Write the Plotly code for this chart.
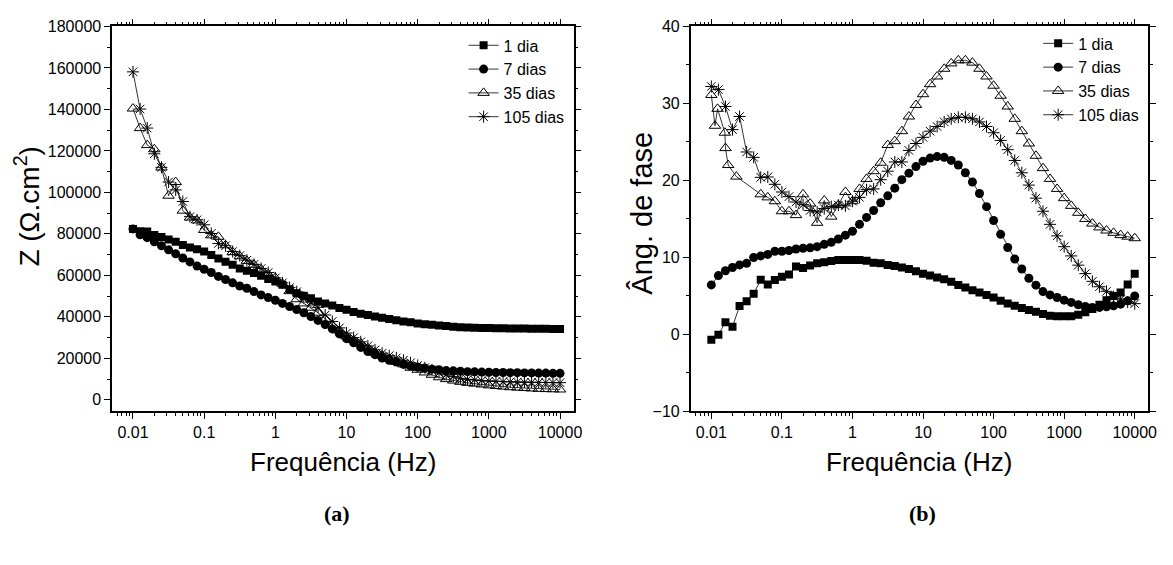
import plotly.graph_objects as go

# Frequency sweep, 10 points per decade (Hz)
freq = [0.01, 0.01259, 0.01585, 0.01995, 0.02512, 0.03162, 0.03981, 0.05012, 0.0631, 0.07943,
        0.1, 0.1259, 0.1585, 0.1995, 0.2512, 0.3162, 0.3981, 0.5012, 0.631, 0.7943,
        1, 1.259, 1.585, 1.995, 2.512, 3.162, 3.981, 5.012, 6.31, 7.943,
        10, 12.59, 15.85, 19.95, 25.12, 31.62, 39.81, 50.12, 63.1, 79.43,
        100, 125.9, 158.5, 199.5, 251.2, 316.2, 398.1, 501.2, 631, 794.3,
        1000, 1259, 1585, 1995, 2512, 3162, 3981, 5012, 6310, 7943, 10000]

# Low-frequency points of the 35-day phase run
freq_35_low = [0.01, 0.01127, 0.01225, 0.01556, 0.01585, 0.01733, 0.02265]

series_names = ["1 dia", "7 dias", "35 dias", "105 dias"]

# Impedance modulus (ohm.cm2)
z_1dia = [82300, 81300, 81200, 79500, 78500, 77300, 76200, 74600, 73400, 72600,
          71500, 69800, 68200, 66600, 65100, 63300, 62200, 61100, 59800, 58300,
          57000, 55500, 53300, 51400, 50200, 49000, 47400, 46400, 45500, 44300,
          43400, 42400, 41500, 40900, 40200, 39600, 39000, 38400, 37800, 37400,
          36800, 36500, 36200, 35900, 35600, 35300, 35000, 34900, 34800, 34700,
          34600, 34500, 34500, 34400, 34400, 34400, 34300, 34300, 34300, 34200, 34200]
z_7dias = [82400, 79600, 78200, 76200, 74300, 72300, 70400, 68400, 66500, 64500,
           62950, 61400, 59500, 58000, 56400, 54900, 53800, 52200, 50600, 49300,
           48000, 46500, 45000, 43500, 42000, 40200, 38300, 36300, 34200, 31800,
           29500, 27500, 25300, 23300, 21800, 20200, 19100, 18200, 17100, 16300,
           15700, 15400, 14800, 14500, 14100, 14000, 13800, 13600, 13500, 13400,
           13300, 13200, 13200, 13100, 13100, 13000, 13000, 12900, 12900, 12800, 12800]
z_35dias = [140400, 131000, 122800, 120800, 112000, 98400, 105000, 91200, 87900, 86500,
            81900, 79300, 78600, 74500, 71200, 69200, 67000, 65100, 62900, 60600,
            58800, 56000, 52400, 48500, 46500, 44400, 42000, 39000, 36000, 33400,
            30600, 28800, 27200, 24900, 22800, 21300, 19700, 18300, 17100, 15500,
            14500, 13200, 12100, 10900, 10000, 9300, 8700, 8200, 7800, 7400,
            7000, 6700, 6400, 6100, 5900, 5700, 5500, 5300, 5200, 5100, 5000]
z_105dias = [158100, 140200, 131000, 118600, 112100, 105000, 101200, 95600, 88300, 86800,
             84400, 80200, 75400, 74300, 71500, 69500, 67300, 65300, 63300, 61400,
             58800, 56400, 54100, 52100, 49300, 47100, 44600, 40900, 37800, 34700,
             32200, 30000, 28000, 26000, 24100, 22500, 21300, 20200, 19100, 17900,
             16600, 15500, 14500, 13200, 12100, 11200, 10400, 9900, 9600, 9300,
             9100, 8900, 8800, 8700, 8600, 8500, 8500, 8400, 8400, 8300, 8300]

# Phase angle (degrees)
ph_1dia = [-0.69, -0.04, 1.6, 1.0, 3.7, 4.3, 5.3, 7.1, 6.5, 7.07,
           7.49, 7.78, 8.82, 8.62, 8.95, 9.25, 9.37, 9.54, 9.66, 9.66,
           9.66, 9.66, 9.57, 9.32, 9.25, 9.03, 8.9, 8.7, 8.5, 8.2,
           7.87, 7.65, 7.4, 7.16, 6.86, 6.43, 6.09, 5.74, 5.44, 5.14,
           4.8, 4.37, 4.03, 3.73, 3.43, 3.17, 2.96, 2.66, 2.44, 2.36,
           2.36, 2.36, 2.57, 2.87, 3.3, 3.86, 4.46, 5.0, 5.44, 6.5, 7.9]
ph_7dias = [6.44, 7.65, 8.28, 8.7, 9.03, 9.24, 10.0, 10.2, 10.4, 10.8,
            10.8, 10.9, 11.1, 11.2, 11.25, 11.4, 11.7, 11.96, 12.4, 12.9,
            13.4, 14.3, 15.2, 16.1, 17.1, 18.0, 19.0, 20.1, 20.95, 21.8,
            22.5, 22.9, 23.1, 23.0, 22.6, 22.0, 21.0, 19.8, 18.3, 16.6,
            14.8, 13.0, 11.3, 9.8, 8.5, 7.3, 6.4, 5.57, 5.14, 4.8,
            4.46, 4.16, 3.86, 3.64, 3.51, 3.51, 3.6, 3.73, 3.94, 4.37, 5.0]
ph_35dias_low = [31.1, 27.1, 29.3, 26.2, 24.2, 22.0, 20.5]
ph_35dias = [18.2, 17.8, 17.3, 16.0, 16.0, 15.5, 18.2, 17.0, 14.5, 17.4,
             15.3, 16.8, 18.5, 17.3, 18.9, 20.2, 21.2, 22.3, 24.6, 25.1,
             26.4, 28.3, 29.8, 31.2, 32.5, 33.5, 34.5, 35.2, 35.6, 35.6,
             35.3, 34.5, 33.5, 32.3, 31.0, 29.6, 28.0, 26.4, 24.8, 23.2,
             21.6, 20.2, 18.9, 17.7, 16.7, 15.8, 15.0, 14.4, 13.9, 13.5,
             13.2, 12.9, 12.7, 12.5]
ph_105dias = [32.2, 31.8, 29.6, 26.6, 28.3, 23.7, 23.0, 20.4, 20.45, 19.5,
              18.5, 17.9, 17.2, 16.85, 16.1, 15.9, 16.35, 16.6, 16.8, 16.7,
              17.3, 17.8, 18.8, 18.9, 20.1, 21.2, 22.4, 22.4, 23.9, 24.8,
              25.6, 26.4, 27.0, 27.6, 28.0, 28.2, 28.2, 28.0, 27.6, 27.0,
              26.2, 25.2, 24.0, 22.6, 21.0, 19.4, 17.7, 16.0, 14.3, 12.8,
              11.4, 10.2, 9.0, 7.9, 6.9, 6.2, 5.6, 4.9, 4.6, 4.2, 4.0]

x_tickvals = [0.01, 0.1, 1, 10, 100, 1000, 10000]
x_ticktext = ["0.01", "0.1", "1", "10", "100", "1000", "10000"]

FONT = "Arial, Liberation Sans, sans-serif"
SERIF = "Times New Roman, Liberation Serif, serif"
W, H = 1173, 565

markers = [
    dict(symbol="square", size=8, color="black"),
    dict(symbol="circle", size=9, color="black"),
    dict(symbol="triangle-up-open", size=10, color="black", line=dict(width=1, color="black")),
    dict(symbol="asterisk-open", size=10, color="black", line=dict(width=1, color="black")),
]

fig = go.Figure()

z_data = [(freq, z_1dia), (freq, z_7dias), (freq, z_35dias), (freq, z_105dias)]
ph_data = [(freq, ph_1dia), (freq, ph_7dias),
           (freq_35_low + freq[7:], ph_35dias_low + ph_35dias), (freq, ph_105dias)]

for name, mk, (fx, fy) in zip(series_names, markers, z_data):
    fig.add_trace(go.Scatter(x=fx, y=fy, name=name, mode="lines+markers",
                             line=dict(color="black", width=0.8), marker=mk,
                             xaxis="x", yaxis="y", legend="legend"))
for name, mk, (fx, fy) in zip(series_names, markers, ph_data):
    fig.add_trace(go.Scatter(x=fx, y=fy, name=name, mode="lines+markers",
                             line=dict(color="black", width=0.8), marker=mk,
                             xaxis="x2", yaxis="y2", legend="legend2"))

# panel boxes in pixels
L1, R1 = 113, 578
L2, R2 = 696, 1157
TOP, BOT = 19, 416


def px(x):
    return x / W


def py(y):
    return 1 - y / H


axis_common = dict(showline=True, linecolor="black", linewidth=1.5, mirror="allticks",
                   ticks="outside", ticklen=6, tickwidth=1, tickcolor="black",
                   showgrid=False, zeroline=False,
                   tickfont=dict(family=FONT, size=16, color="black"))

xaxis_common = dict(axis_common, type="log", range=[-2.293, 4.19],
                    tickvals=x_tickvals, ticktext=x_ticktext,
                    minor=dict(ticks="outside", ticklen=3, tickwidth=1, tickcolor="black", dtick="D1"))

legend_common = dict(xanchor="right", yanchor="top", bgcolor="rgba(0,0,0,0)",
                     font=dict(family=FONT, size=16, color="black"),
                     tracegroupgap=0, itemwidth=30)

fig.update_layout(
    width=W, height=H,
    margin=dict(l=0, r=0, t=0, b=0),
    paper_bgcolor="white", plot_bgcolor="white",
    font=dict(family=FONT, color="black"),
    xaxis=dict(xaxis_common, domain=[px(L1), px(R1)], anchor="y"),
    yaxis=dict(axis_common, domain=[py(BOT), py(TOP)], anchor="x",
               range=[-5600, 180000], dtick=20000, tickformat="d",
               minor=dict(ticks="outside", ticklen=3, tickwidth=1, tickcolor="black", dtick=10000)),
    xaxis2=dict(xaxis_common, domain=[px(L2), px(R2)], anchor="y2"),
    yaxis2=dict(axis_common, domain=[py(BOT), py(TOP)], anchor="x2",
                range=[-10, 40], dtick=10,
                minor=dict(ticks="outside", ticklen=3, tickwidth=1, tickcolor="black", dtick=5)),
    legend=dict(legend_common, x=px(R1 - 4), y=py(TOP + 2)),
    legend2=dict(legend_common, x=px(R2 - 4), y=py(TOP)),
)

annotations = [
    dict(text="Frequência (Hz)", x=px((L1 + R1) / 2), y=py(468), family=FONT, size=26),
    dict(text="Frequência (Hz)", x=px((L2 + R2) / 2), y=py(468), family=FONT, size=26),
    dict(text="Z (Ω.cm<sup>2</sup>)", x=px(27), y=py(205), family=FONT, size=28, angle=-90),
    dict(text="Âng. de fase", x=px(647), y=py(212), family=FONT, size=29, angle=-90),
    dict(text="<b>(a)</b>", x=px(340), y=py(521), family=SERIF, size=22),
    dict(text="<b>(b)</b>", x=px(930), y=py(521), family=SERIF, size=22),
]
for a in annotations:
    fig.add_annotation(xref="paper", yref="paper", showarrow=False,
                       xanchor="center", yanchor="middle",
                       text=a["text"], x=a["x"], y=a["y"], textangle=a.get("angle", 0),
                       font=dict(family=a["family"], size=a["size"], color="black"))

fig.write_html("out.html")
